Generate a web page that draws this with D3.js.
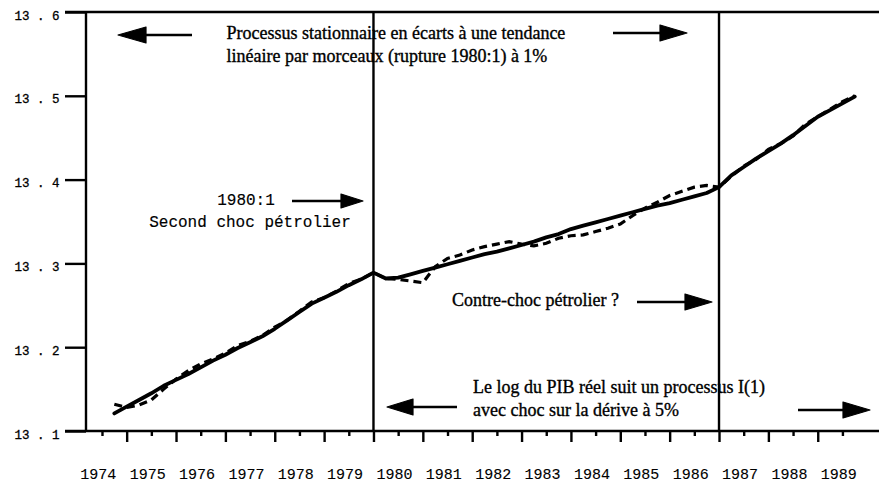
<!DOCTYPE html>
<html>
<head>
<meta charset="utf-8">
<script src="https://cdn.jsdelivr.net/npm/d3@7"></script>
<style>
  body { margin: 0; background: #fff; }
  svg { display: block; }
</style>
</head>
<body>
<script>
// quarterly periods, 1974:4 -> 1989:4
var periods = [
  "1974:4",
  "1975:1","1975:2","1975:3","1975:4",
  "1976:1","1976:2","1976:3","1976:4",
  "1977:1","1977:2","1977:3","1977:4",
  "1978:1","1978:2","1978:3","1978:4",
  "1979:1","1979:2","1979:3","1979:4",
  "1980:1","1980:2","1980:3","1980:4",
  "1981:1","1981:2","1981:3","1981:4",
  "1982:1","1982:2","1982:3","1982:4",
  "1983:1","1983:2","1983:3","1983:4",
  "1984:1","1984:2","1984:3","1984:4",
  "1985:1","1985:2","1985:3","1985:4",
  "1986:1","1986:2","1986:3","1986:4",
  "1987:1","1987:2","1987:3","1987:4",
  "1988:1","1988:2","1988:3","1988:4",
  "1989:1","1989:2","1989:3","1989:4"
];

// trait plein
var solidSeries = [
  13.121,
  13.129, 13.137, 13.145, 13.154,
  13.161, 13.168, 13.176, 13.184,
  13.191, 13.199, 13.206, 13.213,
  13.222, 13.232, 13.242, 13.252,
  13.259, 13.266, 13.274, 13.281,
  13.289, 13.282, 13.283, 13.287,
  13.291, 13.295, 13.299, 13.303,
  13.307, 13.311, 13.314, 13.318,
  13.322, 13.326, 13.331, 13.335,
  13.341, 13.345, 13.349, 13.353,
  13.357, 13.361, 13.365, 13.369,
  13.372, 13.376, 13.380, 13.384,
  13.391, 13.405, 13.415, 13.425,
  13.434, 13.443, 13.453, 13.464,
  13.475, 13.483, 13.491, 13.499
];

// trait pointillé
var dashedSeries = [
  13.132,
  13.128, 13.131, 13.137, 13.150,
  13.162, 13.172, 13.180, 13.186,
  13.193, 13.202, 13.207, 13.214,
  13.224, 13.232, 13.243, 13.254,
  13.259, 13.267, 13.276, 13.281,
  13.289, 13.282, 13.281, 13.279,
  13.277, 13.296, 13.306, 13.310,
  13.316, 13.320, 13.323, 13.326,
  13.323, 13.321, 13.324, 13.330,
  13.333, 13.334, 13.338, 13.342,
  13.347, 13.357, 13.366, 13.373,
  13.381, 13.386, 13.391, 13.393,
  13.391, 13.404, 13.416, 13.424,
  13.436, 13.443, 13.452, 13.466,
  13.475, 13.484, 13.493, 13.500
];

var yTicks = [13.1, 13.2, 13.3, 13.4, 13.5, 13.6];
var yearLabels = [1974, 1975, 1976, 1977, 1978, 1979, 1980, 1981,
                  1982, 1983, 1984, 1985, 1986, 1987, 1988, 1989];
var majorTicks = [1975, 1976, 1977, 1978, 1979, 1980, 1981, 1982,
                  1983, 1984, 1985, 1986, 1987, 1988, 1989];
var minorTicks = [1974.5, 1975.5, 1976.5, 1977.5, 1978.5, 1979.5, 1980.5, 1981.5,
                  1982.5, 1983.5, 1984.5, 1985.5, 1986.5, 1987.5, 1988.5, 1989.5];
var breaks = ["1980:1", "1987:1"];

var width = 879,
    height = 485,
    left = 86,
    mono = "'Liberation Mono', 'DejaVu Sans Mono', monospace",
    serif = "'Liberation Serif', 'Times New Roman', serif";

function toYear(p) {
  var parts = p.split(":");
  return +parts[0] + (+parts[1] - 1) / 4;
}

var x = d3.scaleLinear().domain([1974, 1990]).range([77.3, 867.1]);
var y = d3.scaleLinear().domain([13.1, 13.6]).range([431, 12]);

var svg = d3.select("body").append("svg")
    .attr("width", width)
    .attr("height", height);

// y axis
var yAxis = d3.axisLeft(y)
    .tickValues(yTicks)
    .tickSize(21)
    .tickPadding(5.5)
    .tickFormat(function(d) { return d3.format(".1f")(d).replace(".", " . "); });

var gy = svg.append("g")
    .attr("transform", "translate(" + left + ",0)")
    .call(yAxis);
gy.select(".domain").remove();
gy.selectAll(".tick line").attr("stroke", "#000").attr("stroke-width", 2.4);
gy.selectAll(".tick text")
    .attr("dy", 7)
    .style("font-family", mono)
    .style("font-size", "12.5px")
    .style("white-space", "pre")
    .attr("fill", "#000")
    .attr("stroke", "#000")
    .attr("stroke-width", 0.3);

// x axis ticks
var gx = svg.append("g")
    .attr("transform", "translate(0," + y(13.1) + ")")
    .call(d3.axisBottom(x).tickValues(majorTicks).tickSize(11).tickFormat(""));
gx.select(".domain").remove();
gx.selectAll(".tick line").attr("stroke", "#000").attr("stroke-width", 2.4);

var gx2 = svg.append("g")
    .attr("transform", "translate(0," + y(13.1) + ")")
    .call(d3.axisBottom(x).tickValues(minorTicks).tickSize(5).tickFormat(""));
gx2.select(".domain").remove();
gx2.selectAll(".tick line").attr("stroke", "#000").attr("stroke-width", 2.4);

svg.append("g").selectAll("text")
    .data(yearLabels)
    .enter()
    .append("text")
    .attr("x", function(d) { return x(d) + 3; })
    .attr("y", 479)
    .style("font-family", mono)
    .style("font-size", "15px")
    .attr("fill", "#000")
    .attr("stroke", "#000")
    .attr("stroke-width", 0.12)
    .text(function(d) { return d; });

// frame
svg.append("line")
    .attr("x1", left).attr("x2", left)
    .attr("y1", y(13.6)).attr("y2", y(13.1))
    .attr("stroke", "#000").attr("stroke-width", 2.4);
svg.append("line")
    .attr("x1", left - 21).attr("x2", width)
    .attr("y1", y(13.6)).attr("y2", y(13.6))
    .attr("stroke", "#000").attr("stroke-width", 2.6);
svg.append("line")
    .attr("x1", left - 21).attr("x2", width)
    .attr("y1", y(13.1)).attr("y2", y(13.1))
    .attr("stroke", "#000").attr("stroke-width", 2.6);

// annotations
function arrow(tail, tip, yy, headLen, headHalf) {
  var dir = tip > tail ? 1 : -1;
  var base = tip - dir * headLen;
  svg.append("line")
      .attr("x1", tail).attr("x2", base + dir * 2)
      .attr("y1", yy).attr("y2", yy)
      .attr("stroke", "#000").attr("stroke-width", 2.4);
  svg.append("path")
      .attr("d", "M" + tip + "," + yy +
                 "L" + base + "," + (yy - headHalf) +
                 "L" + base + "," + (yy + headHalf) + "Z")
      .attr("fill", "#000")
      .attr("stroke", "#000")
      .attr("stroke-width", 1.2)
      .attr("stroke-linejoin", "round");
}

function serifText(tx, ty, str) {
  svg.append("text")
      .attr("x", tx).attr("y", ty)
      .style("font-family", serif)
      .style("font-size", "18px")
      .attr("fill", "#000")
      .attr("stroke", "#000")
      .attr("stroke-width", 0.35)
      .text(str);
}

function monoText(tx, ty, str) {
  svg.append("text")
      .attr("x", tx).attr("y", ty)
      .attr("text-anchor", "middle")
      .style("font-family", mono).style("font-size", "16px")
      .attr("fill", "#000")
      .attr("stroke", "#000")
      .attr("stroke-width", 0.15)
      .text(str);
}

serifText(226.5, 39, "Processus stationnaire en écarts à une tendance");
serifText(226.5, 62, "linéaire par morceaux (rupture 1980:1) à 1%");
arrow(192, 118, 35, 28, 8);
arrow(613, 687, 33, 27, 8);

monoText(246, 205, "1980:1");
monoText(250, 227, "Second choc pétrolier");
arrow(292, 363, 201, 22, 7);

serifText(452, 306, "Contre-choc pétrolier ?");
arrow(637, 712, 302, 27, 8);

serifText(473, 393, "Le log du PIB réel suit un processus I(1)");
serifText(473, 416, "avec choc sur la dérive à 5%");
arrow(457, 387, 407, 26, 8);
arrow(798, 870, 410, 27, 8);

// break lines (1980:1 et 1987:1)
svg.append("g").selectAll("line")
    .data(breaks)
    .enter()
    .append("line")
    .attr("x1", function(d) { return x(toYear(d)); })
    .attr("x2", function(d) { return x(toYear(d)); })
    .attr("y1", y(13.6))
    .attr("y2", y(13.1))
    .attr("stroke", "#000")
    .attr("stroke-width", 2.4);

// series
var line = d3.line()
    .x(function(d) { return x(toYear(d.p)); })
    .y(function(d) { return y(d.v); });

var dashedData = periods.map(function(p, i) { return { p: p, v: dashedSeries[i] }; });
var solidData = periods.map(function(p, i) { return { p: p, v: solidSeries[i] }; });

svg.append("path")
    .datum(dashedData)
    .attr("d", line)
    .attr("fill", "none")
    .attr("stroke", "#000")
    .attr("stroke-width", 3.2)
    .attr("stroke-dasharray", "8,5");

svg.append("path")
    .datum(solidData)
    .attr("d", line)
    .attr("fill", "none")
    .attr("stroke", "#000")
    .attr("stroke-width", 3.8)
    .attr("stroke-linejoin", "round")
    .attr("stroke-linecap", "round");
</script>
</body>
</html>
